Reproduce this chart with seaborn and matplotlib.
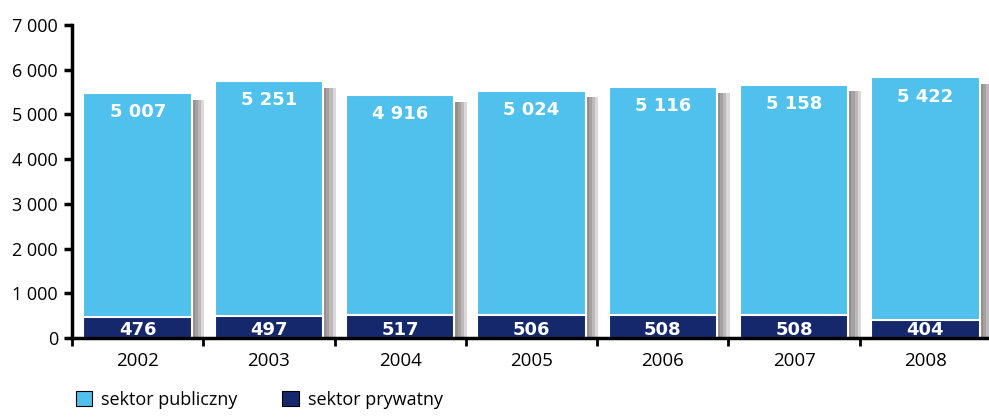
import numpy as np
import pandas as pd
import matplotlib
matplotlib.use("Agg")
import matplotlib.pyplot as plt
import seaborn as sns
from matplotlib.patches import Patch

# dane: liczba szkół wg sektora
lata = ["2002", "2003", "2004", "2005", "2006", "2007", "2008"]
publiczny = [5007, 5251, 4916, 5024, 5116, 5158, 5422]
prywatny = [476, 497, 517, 506, 508, 508, 404]

kolor_pub = "#50C1EC"
kolor_pryw = "#14286B"

df = pd.DataFrame({"rok": lata, "publiczny": publiczny, "prywatny": prywatny})
df["razem"] = df["publiczny"] + df["prywatny"]

sns.set_style("white")
plt.rcParams["font.family"] = ["Open Sans", "DejaVu Sans"]
plt.rcParams["text.color"] = "black"
plt.rcParams["xtick.color"] = "black"
plt.rcParams["ytick.color"] = "black"

fig = plt.figure(figsize=(9.89, 4.17), dpi=100)
ax = fig.add_axes([72 / 989, 79 / 417, 919 / 989, 313 / 417])

szer = 0.825
x = np.arange(len(lata))

# cien po prawej stronie slupkow
for k in range(1, 5):
    ax.bar(x + szer / 2, df["razem"] - 150, width=0.024 * k, align="edge",
           color="#4a4040", alpha=0.2, linewidth=0, zorder=0.5)

sns.barplot(data=df, x="rok", y="razem", color=kolor_pub, width=szer,
            edgecolor="white", linewidth=1.5, saturation=1, ax=ax, zorder=2)
sns.barplot(data=df, x="rok", y="prywatny", color=kolor_pryw, width=szer,
            edgecolor="white", linewidth=1.5, saturation=1, ax=ax, zorder=3)

def fmt(v):
    return f"{v:,}".replace(",", " ")

for i, row in df.iterrows():
    ax.text(i, row["razem"] - 430, fmt(row["publiczny"]), ha="center", va="center",
            color="white", fontsize=13, fontweight="bold", family="DejaVu Sans", zorder=5)
    ax.text(i, 185, fmt(row["prywatny"]), ha="center", va="center",
            color="white", fontsize=13, fontweight="bold", family="DejaVu Sans", zorder=5)

ax.set_xlim(-0.5, 6.5)
ax.set_ylim(0, 7000)
ax.set_yticks(range(0, 7001, 1000))
ax.set_yticklabels([fmt(v) for v in range(0, 7001, 1000)])
ax.get_yticklabels()[0].set_fontsize(10)
ax.set_xlabel("")
ax.set_ylabel("")

sns.despine(ax=ax)
for s in ["left", "bottom"]:
    ax.spines[s].set_linewidth(2.5)
    ax.spines[s].set_color("black")
ax.spines["bottom"].set_zorder(6)

ax.tick_params(axis="y", which="major", left=True, length=6, width=2.5, labelsize=13,
               pad=4, labelcolor="black")
ax.tick_params(axis="x", which="major", length=0, labelsize=13.5, pad=10, labelcolor="black")
ax.set_xticks(np.arange(-0.5, 7, 1.0), minor=True)
ax.tick_params(axis="x", which="minor", bottom=True, length=6, width=2)

handles = [Patch(facecolor=kolor_pub, edgecolor="black", linewidth=0.8, label="sektor publiczny"),
           Patch(facecolor=kolor_pryw, edgecolor="black", linewidth=0.8, label="sektor prywatny")]
leg = fig.legend(handles=handles, loc="lower left", bbox_to_anchor=(0.06, -0.02), ncol=2,
                 frameon=False, fontsize=13, handlelength=0.9, handleheight=0.9,
                 handletextpad=0.5, columnspacing=2.5)
for t in leg.get_texts():
    t.set_color("black")

fig.savefig("out.png", dpi=100)
